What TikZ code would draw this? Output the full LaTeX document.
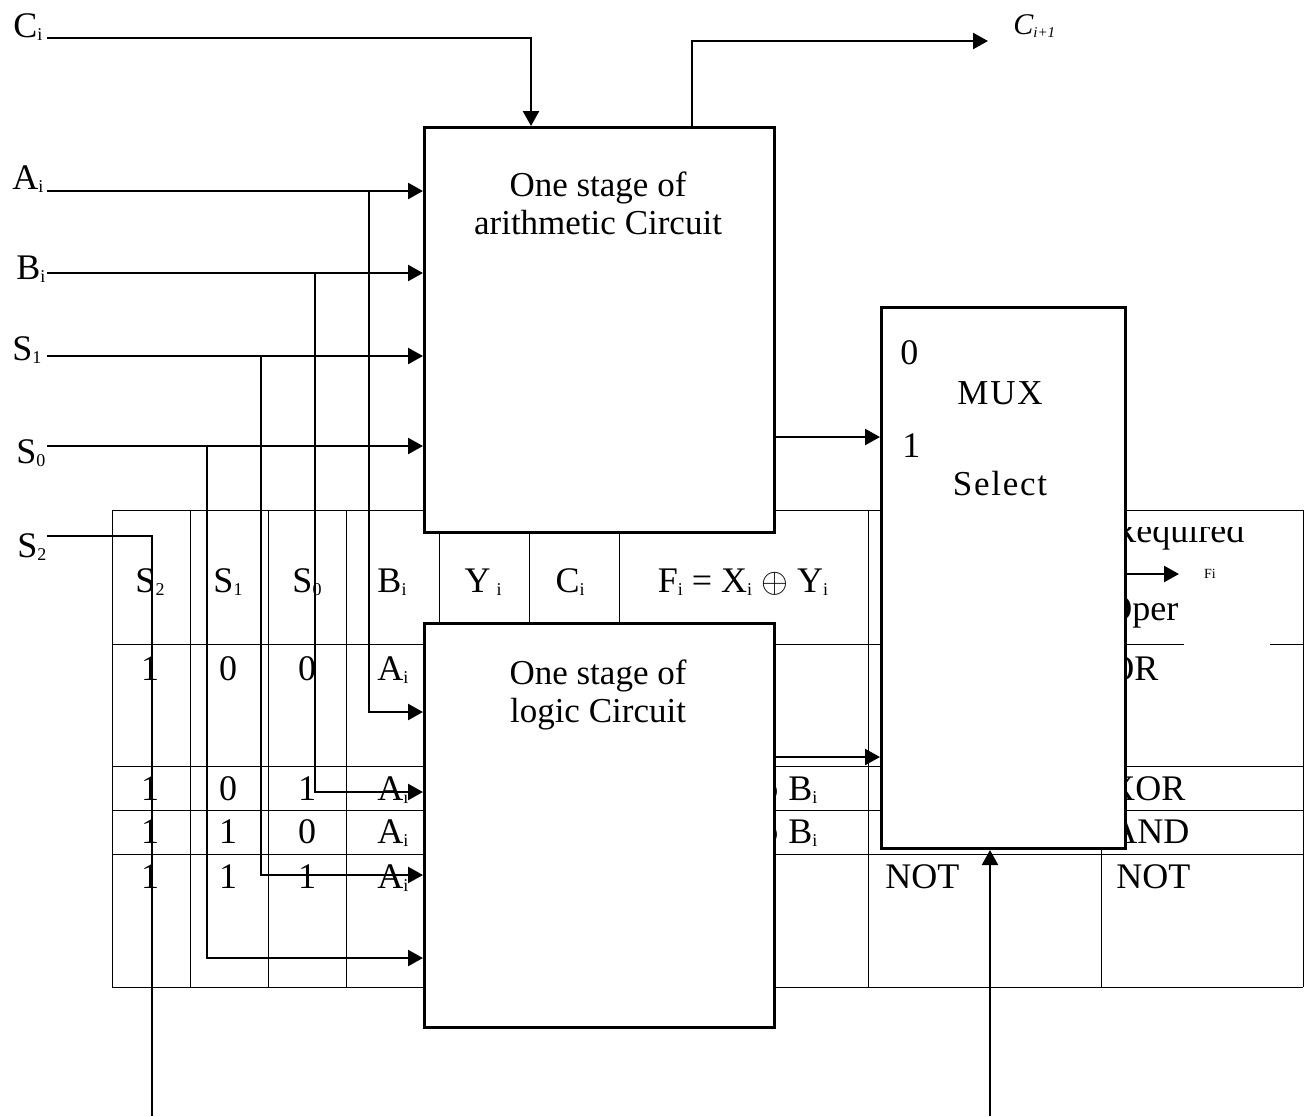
\documentclass[tikz,border=0pt]{standalone}
\usepackage{fontspec}
\setmainfont{Liberation Serif}
\usetikzlibrary{arrows.meta}
\newcommand{\sbs}[1]{\raisebox{-1.5pt}{\fontsize{9}{9}\selectfont #1}}

\begin{document}
\begin{tikzpicture}[x=0.5pt, y=-0.5pt,
                    every node/.style={inner sep=0pt, font=\fontsize{18}{21}\selectfont},
                    box/.style={draw, line width=1.5pt, fill=white, anchor=north west},
                    boxtext/.style={anchor=north, align=center, font=\fontsize{17.5}{19}\selectfont},
                    spaced/.style={anchor=base, font=\fontsize{17.5}{19}\selectfont\addfontfeature{LetterSpace=5}},
                    wire/.style={line width=1.2pt},
                    arr/.style={wire, -{Triangle[length=7.5pt, width=8pt]}},
                    grid/.style={line width=0.5pt}
                    ]

                    \useasboundingbox (0,0) rectangle (1311,1116);

                    \foreach \x in {112,190,268,346,439,529,619,868,1101,1303}{
                        \draw[grid] (\x,510) -- (\x,987);
                    }
                    \foreach \y in {510,766,810,854,987}{
                        \draw[grid] (112,\y) -- (1303,\y);
                    }
                    \draw[grid] (112,644) -- (1184,644) (1270,644) -- (1303,644);

                    \foreach \x/\t in {150/S\sbs{2},228/S\sbs{1},307/S\sbs{0},392/B\sbs{i},483/Y\,\sbs{i},570/C\sbs{i}}{
                        \node[anchor=base] (h\x) at (\x,592) {\t};
                    }
                    \node[anchor=base] (hF) at (743,592) {F\sbs{i} = X\sbs{i} $\oplus$ Y\sbs{i}};
                    \begin{scope}
                        \clip (1101,527) rectangle (1303,644);
                        \node[anchor=base west] (req) at (1112,542) {Required};
                    \end{scope}
                    \node[anchor=base west] (oper) at (1106,620) {Oper};

                    \foreach \r/\y/\a/\b/\c in {1/680/1/0/0,2/800/1/0/1,3/843/1/1/0,4/888/1/1/1}{
                        \node[anchor=base] (ra\r) at (150,\y) {\a};
                        \node[anchor=base] (rb\r) at (228,\y) {\b};
                        \node[anchor=base] (rc\r) at (307,\y) {\c};
                        \node[anchor=base west] (rd\r) at (377,\y) {A\sbs{i}};
                    }
                    \node[anchor=base west] (xo2) at (752,800) {$\oplus$ B\sbs{i}};
                    \node[anchor=base west] (xo3) at (752,843) {$\oplus$ B\sbs{i}};
                    \node[anchor=base west] (not4) at (885,888) {NOT};
                    \foreach \r/\x/\y/\t in {1/1108/680/OR,2/1109/800/XOR,3/1111/843/AND,4/1116/888/NOT}{
                        \node[anchor=base west] (op\r) at (\x,\y) {\t};
                    }

                    \node[box, minimum width=175pt, minimum height=202.5pt] (arith) at (423,126) {};
                    \node[box, minimum width=175pt, minimum height=202pt] (logic) at (423,622) {};
                    \node[box, minimum width=122pt, minimum height=270.5pt] (mux) at (880,306) {};

                    \node[boxtext] (arithtxt) at (598,171) {One stage of\\arithmetic Circuit};
                    \node[boxtext] (logictxt) at (598,659) {One stage of\\logic Circuit};
                    \node[anchor=base west] (m0) at (900,364) {0};
                    \node[spaced] (muxtxt) at (1000,404) {MUX};
                    \node[anchor=base west] (m1) at (902,457) {1};
                    \node[spaced] (seltxt) at (1000,495) {Select};

                    \node[anchor=base west] (ci) at (13,37) {C\sbs{i}};
                    \node[anchor=base west] (ai) at (12,189) {A\sbs{i}};
                    \node[anchor=base west] (bi) at (16,279) {B\sbs{i}};
                    \node[anchor=base west] (sa) at (12,360) {S\sbs{1}};
                    \node[anchor=base west] (sb) at (16,463) {S\sbs{0}};
                    \node[anchor=base west] (sc) at (17,557) {S\sbs{2}};
                    \node[anchor=base west, font=\fontsize{15}{17}\selectfont\itshape] (cnext) at (1013,34) {C\raisebox{-1.5pt}{\fontsize{7.5}{8}\selectfont i+1}};
                    \node[font=\fontsize{7}{8}\selectfont] (fi) at (1210,574) {Fi};

                    \coordinate (ciw) at (47,38);
                    \coordinate (aiw) at (47,191);
                    \coordinate (biw) at (47,273);
                    \coordinate (s1w) at (47,356);
                    \coordinate (s0w) at (47,446);
                    \coordinate (s2w) at (47,536);
                    \coordinate (aj) at (369,191);
                    \coordinate (bj) at (315,273);
                    \coordinate (s1j) at (261,356);
                    \coordinate (s0j) at (207,446);
                    \coordinate (la) at (423,712);
                    \coordinate (lb) at (423,792);
                    \coordinate (ls1) at (423,875);
                    \coordinate (ls0) at (423,958);
                    \coordinate (cin) at (531,126);
                    \coordinate (cout) at (692,126);
                    \coordinate (cnx) at (988,41);
                    \coordinate (ao) at (773,437);
                    \coordinate (lo) at (773,757);
                    \coordinate (sel) at (990,1116);
                    \coordinate (fo) at (1179,574);
                    \coordinate (s2end) at (152,1116);

                    \draw[arr] (ciw) -| (cin);
                    \draw[arr] (cout) |- (cnx);
                    \foreach \i in {aiw,biw,s1w,s0w}{
                        \draw[arr] (\i) -- (arith.west |- \i);
                    }
                    \foreach \i/\j in {aj/la,bj/lb,s1j/ls1,s0j/ls0}{
                        \draw[arr] (\i) |- (\j);
                    }
                    \draw[wire] (s2w) -| (s2end);
                    \draw[arr] (ao) -- (mux.west |- ao);
                    \draw[arr] (lo) -- (mux.west |- lo);
                    \draw[arr] (sel) -- (mux.south -| sel);
                    \draw[arr] (mux.east |- fo) -- (fo);

                \end{tikzpicture}
\end{document}
